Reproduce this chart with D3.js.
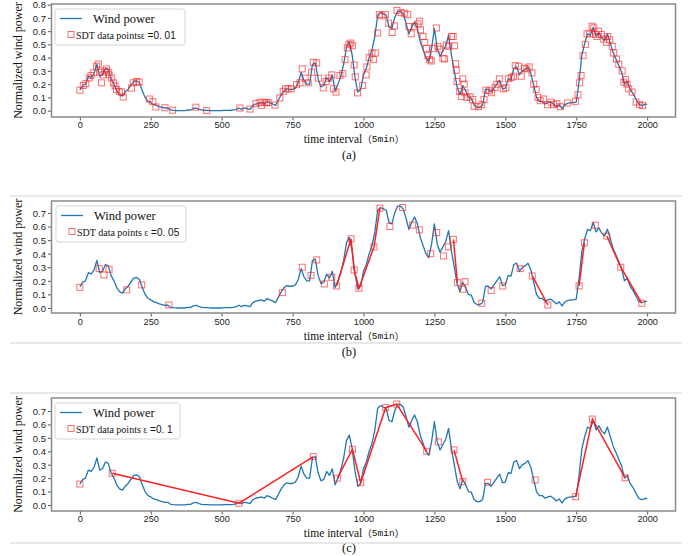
<!DOCTYPE html>
<html><head><meta charset="utf-8">
<script src="https://cdn.jsdelivr.net/npm/d3@7"></script>
<style>body{margin:0;background:#fff} svg{display:block}</style>
</head><body>
<svg id="chart" width="694" height="556"></svg>
<script>
// ---------------- data ----------------
const timeStep = 10; // samples read every 10 intervals
const windPower = [
  .155,.19,.20,.26,.25,.28,.35,.26,.27,.32,
  .31,.24,.20,.15,.12,.11,.14,.16,.19,.22,
  .225,.21,.15,.10,.07,.06,.045,.04,.03,.025,
  .02,.02,.005,.002,0,0,0,0,.005,.005,
  .015,.02,.01,.005,.003,.002,0,0,0,0,
  0,.002,.002,.003,.005,.008,.02,.01,.02,.015,
  .01,.04,.05,.055,.06,.05,.07,.06,.05,.04,
  .08,.12,.15,.165,.16,.16,.17,.21,.29,.23,
  .20,.20,.35,.36,.24,.18,.19,.25,.22,.27,
  .15,.20,.26,.35,.48,.52,.42,.25,.14,.16,
  .27,.32,.40,.46,.56,.72,.74,.73,.72,.63,
  .62,.70,.75,.75,.73,.66,.58,.63,.67,.62,
  .52,.46,.40,.37,.47,.62,.47,.41,.45,.49,
  .57,.42,.30,.18,.12,.19,.15,.10,.095,.04,
  .025,.025,.04,.16,.16,.14,.17,.20,.23,.165,
  .17,.24,.235,.32,.33,.27,.30,.31,.33,.28,
  .19,.10,.07,.07,.05,.06,.065,.05,.03,.045,
  .015,.045,.055,.06,.06,.065,.22,.42,.51,.58,
  .57,.63,.56,.59,.55,.53,.58,.51,.44,.39,
  .34,.29,.20,.22,.16,.13,.09,.05,.04,.045,
  .05
];
const xTicks = [0,250,500,750,1000,1250,1500,1750,2000];
const yTicksA = [0,0.1,0.2,0.3,0.4,0.5,0.6,0.7,0.8];
const yTicksBC = [0,0.1,0.2,0.3,0.4,0.5,0.6,0.7];

const sdtA = [[0,0.154],[12,0.19],[21,0.204],[33,0.247],[39,0.265],[49,0.285],[59,0.335],[65,0.352],[71,0.29],[76,0.21],[82,0.27],[88,0.30],[94,0.315],[100,0.29],[103,0.27],[112,0.247],[118,0.21],[124,0.187],[129,0.16],[139,0.145],[147,0.14],[153,0.103],[182,0.17],[188,0.21],[200,0.22],[209,0.215],[245,0.088],[257,0.068],[268,0.028],[300,0.022],[327,0.003],[409,0.026],[447,0.0],[564,0.02],[600,0.012],[621,0.053],[635,0.063],[641,0.04],[650,0.063],[658,0.06],[664,0.06],[688,0.042],[705,0.095],[717,0.146],[725,0.165],[734,0.165],[746,0.165],[764,0.196],[776,0.21],[784,0.315],[794,0.245],[805,0.21],[817,0.29],[823,0.365],[835,0.36],[841,0.245],[858,0.172],[868,0.22],[876,0.245],[888,0.27],[894,0.165],[903,0.14],[917,0.265],[927,0.28],[935,0.385],[943,0.473],[949,0.50],[955,0.51],[961,0.49],[967,0.345],[971,0.255],[979,0.134],[997,0.19],[1009,0.27],[1012,0.33],[1020,0.40],[1030,0.435],[1035,0.385],[1042,0.435],[1050,0.586],[1056,0.725],[1065,0.715],[1077,0.725],[1089,0.66],[1101,0.59],[1109,0.64],[1118,0.757],[1132,0.74],[1144,0.735],[1156,0.725],[1160,0.635],[1168,0.58],[1180,0.635],[1192,0.655],[1198,0.675],[1201,0.61],[1210,0.56],[1216,0.515],[1222,0.47],[1227,0.415],[1233,0.385],[1239,0.375],[1245,0.47],[1257,0.624],[1262,0.485],[1268,0.465],[1280,0.395],[1286,0.39],[1292,0.495],[1301,0.485],[1310,0.56],[1316,0.56],[1321,0.49],[1325,0.355],[1327,0.305],[1330,0.22],[1339,0.145],[1345,0.107],[1350,0.24],[1355,0.2],[1358,0.135],[1364,0.10],[1376,0.105],[1385,0.085],[1390,0.033],[1405,0.03],[1417,0.045],[1425,0.085],[1432,0.155],[1444,0.15],[1452,0.135],[1464,0.175],[1470,0.2],[1479,0.24],[1493,0.165],[1502,0.173],[1511,0.24],[1521,0.25],[1529,0.26],[1535,0.34],[1547,0.335],[1556,0.26],[1567,0.32],[1576,0.315],[1584,0.33],[1594,0.285],[1600,0.2],[1609,0.16],[1615,0.10],[1623,0.075],[1635,0.088],[1649,0.045],[1661,0.065],[1670,0.045],[1682,0.053],[1694,0.03],[1720,0.058],[1747,0.07],[1756,0.12],[1762,0.21],[1767,0.265],[1774,0.415],[1782,0.5],[1788,0.58],[1797,0.58],[1806,0.637],[1812,0.625],[1818,0.575],[1823,0.56],[1829,0.6],[1838,0.575],[1847,0.54],[1856,0.515],[1861,0.56],[1868,0.535],[1877,0.485],[1882,0.435],[1892,0.39],[1900,0.35],[1912,0.3],[1918,0.215],[1924,0.235],[1929,0.2],[1935,0.165],[1947,0.14],[1961,0.065],[1973,0.045],[1984,0.038]];

const sdtB = [[0,0.152],[68,0.29],[85,0.243],[103,0.285],[165,0.133],[218,0.17],[314,0.022],[714,0.113],[784,0.30],[815,0.24],[835,0.354],[862,0.177],[888,0.226],[905,0.162],[956,0.51],[967,0.28],[984,0.145],[1037,0.45],[1058,0.735],[1093,0.60],[1138,0.74],[1173,0.61],[1197,0.575],[1237,0.40],[1258,0.555],[1282,0.383],[1299,0.45],[1317,0.505],[1331,0.187],[1350,0.138],[1358,0.194],[1417,0.035],[1450,0.128],[1491,0.162],[1552,0.29],[1595,0.236],[1650,0.022],[1760,0.162],[1779,0.48],[1817,0.61],[1858,0.53],[1907,0.30],[1981,0.035]];
const sdtLinesB = [[13,18],[27,28],[35,36],[37,38],[40,42]];

const sdtC = [[0,0.156],[114,0.236],[561,0.013],[823,0.36],[908,0.20],[961,0.415],[990,0.166],[1078,0.725],[1117,0.752],[1223,0.40],[1264,0.47],[1319,0.41],[1350,0.174],[1437,0.169],[1605,0.186],[1748,0.062],[1807,0.64],[1922,0.203]];
const sdtLinesC = [[1,3],[4,9],[11,12],[15,17]];

const epsLabels = ["0. 01", "0. 05", "0. 1"];
const panelTags = ["(a)", "(b)", "(c)"];

// ---------------- layout ----------------
const svg = d3.select('#chart');
const serif = "'Liberation Serif','Times New Roman',serif";
const sans = "'Liberation Sans',Arial,sans-serif";
const cjk = "'Noto Sans CJK SC',sans-serif";
const frameL = 51.5, frameR = 675.5;
const blue = '#1f77b4', red = '#ff2020';

const panels = [
  {top:4, bottom:117, yDom:[-0.048,0.805], yTicks:yTicksA, tickY:125, xLabY:139, tagY:155, sdt:sdtA, lines:[], eps:epsLabels[0], epsSpace:'', legTop:9, legW:130, legL:55},
  {top:201, bottom:313, yDom:[-0.037,0.788], yTicks:yTicksBC, tickY:322, xLabY:335.5, tagY:352, sdt:sdtB, lines:sdtLinesB, eps:epsLabels[1], epsSpace:' ', legTop:206, legW:130, legL:56},
  {top:398, bottom:511, yDom:[-0.045,0.797], yTicks:yTicksBC, tickY:519, xLabY:533, tagY:548, sdt:sdtC, lines:sdtLinesC, eps:epsLabels[2], epsSpace:' ', legTop:403, legW:125, legL:55}
];

// separators
[196, 343, 393, 543].forEach(y => {
  svg.append('line').attr('x1',10).attr('x2',682).attr('y1',y).attr('y2',y)
    .attr('stroke','#d0d0d0').attr('stroke-width',1);
});

const x = d3.scaleLinear().domain([-100,2100]).range([frameL, frameR]);
const windSeries = windPower.map((v,i) => [i*timeStep, v]);

panels.forEach((p, pi) => {
  const y = d3.scaleLinear().domain(p.yDom).range([p.bottom, p.top]);
  const g = svg.append('g');
  const clipId = 'clip' + pi;
  g.append('clipPath').attr('id', clipId).append('rect')
    .attr('x', frameL).attr('y', p.top).attr('width', frameR-frameL).attr('height', p.bottom-p.top);

  // x axis
  const xa = g.append('g').attr('transform', `translate(0,${p.bottom})`)
    .call(d3.axisBottom(x).tickValues(xTicks).tickSize(3.5).tickPadding(2).tickFormat(d3.format('d')));
  xa.select('.domain').remove();
  xa.selectAll('line').attr('stroke','#555');
  xa.selectAll('text').attr('font-family', sans).attr('font-size', 9.2).attr('fill','#222')
    .attr('y', null).attr('dy', null)
    .attr('transform', `translate(0,${p.tickY - p.bottom})`).attr('dominant-baseline','central');

  // y axis
  const ya = g.append('g').attr('transform', `translate(${frameL},0)`)
    .call(d3.axisLeft(y).tickValues(p.yTicks).tickSize(3.5).tickPadding(2).tickFormat(d3.format('.1f')));
  ya.select('.domain').remove();
  ya.selectAll('line').attr('stroke','#555');
  ya.selectAll('text').attr('font-family', sans).attr('font-size', 9.5).attr('fill','#222')
    .attr('dy','0.35em');

  // wind line
  const line = d3.line().x(d => x(d[0])).y(d => y(d[1]));
  const plot = g.append('g').attr('clip-path', `url(#${clipId})`);
  plot.append('path').datum(windSeries).attr('d', line)
    .attr('fill','none').attr('stroke', blue).attr('stroke-width', 1.3).attr('stroke-linejoin','round');

  // SDT connecting segments
  p.lines.forEach(([a,b]) => {
    plot.append('path').datum(p.sdt.slice(a, b+1)).attr('d', line)
      .attr('fill','none').attr('stroke', red).attr('stroke-width', 1.5);
  });

  // SDT markers
  plot.selectAll('rect.sdt').data(p.sdt).join('rect').attr('class','sdt')
    .attr('x', d => x(d[0]) - 3).attr('y', d => y(d[1]) - 3)
    .attr('width', 6).attr('height', 6)
    .attr('fill','none').attr('stroke', red).attr('stroke-opacity', 0.65).attr('stroke-width', 1);

  // frame
  g.append('rect').attr('x', frameL).attr('y', p.top).attr('width', frameR-frameL).attr('height', p.bottom-p.top)
    .attr('fill','none').attr('stroke','#8a8a8a').attr('stroke-width', 1.5);

  // y label
  g.append('text').attr('transform', `translate(18,${(p.top+p.bottom)/2}) rotate(-90)`)
    .attr('text-anchor','middle').attr('dominant-baseline','central')
    .attr('font-family', serif).attr('font-size', 12).attr('fill','#111')
    .text('Normalized wind power');

  // x label
  const xl = g.append('text').attr('x', 354).attr('y', p.xLabY).attr('text-anchor','middle')
    .attr('dominant-baseline','central').attr('font-family', serif).attr('font-size', 11.5).attr('fill','#111');
  xl.append('tspan').text('time interval');
  xl.append('tspan').attr('font-family', cjk).attr('font-size', 9.5).text('（');
  xl.append('tspan').attr('font-family', "'Liberation Mono',monospace").attr('font-size', 9.5).text('5min');
  xl.append('tspan').attr('font-family', cjk).attr('font-size', 9.5).text('）');

  // panel tag
  g.append('text').attr('x', 349).attr('y', p.tagY).attr('text-anchor','middle').attr('dominant-baseline','central')
    .attr('font-family', serif).attr('font-size', 12.5).attr('fill','#111').text(panelTags[pi]);

  // legend
  const lg = g.append('g');
  lg.append('rect').attr('x', p.legL).attr('y', p.legTop).attr('width', p.legW).attr('height', 36)
    .attr('rx', 2.5).attr('fill','#fff').attr('fill-opacity',0.85).attr('stroke','#d5d5d5').attr('stroke-width',1);
  const r1 = p.legTop + 9.5, r2 = p.legTop + 25.5;
  lg.append('line').attr('x1', p.legL+5).attr('x2', p.legL+27).attr('y1', r1).attr('y2', r1)
    .attr('stroke', blue).attr('stroke-width', 1.3);
  lg.append('text').attr('x', p.legL+38).attr('y', r1).attr('dominant-baseline','central')
    .attr('font-family', serif).attr('font-size', 12.5).attr('fill','#111').text('Wind power');
  lg.append('rect').attr('x', p.legL+13).attr('y', r2-3).attr('width',6).attr('height',6)
    .attr('fill','none').attr('stroke', red).attr('stroke-opacity',0.65).attr('stroke-width',1);
  const t2 = lg.append('text').attr('x', p.legL+21).attr('y', r2).attr('dominant-baseline','central')
    .attr('font-size', 10).attr('fill','#111');
  t2.append('tspan').attr('font-family', serif).text('SDT data points' + p.epsSpace);
  t2.append('tspan').attr('font-family', cjk).attr('font-size', 8).text('ε');
  t2.append('tspan').attr('font-family', sans).text(' =' + p.eps);
});
</script>
</body></html>
